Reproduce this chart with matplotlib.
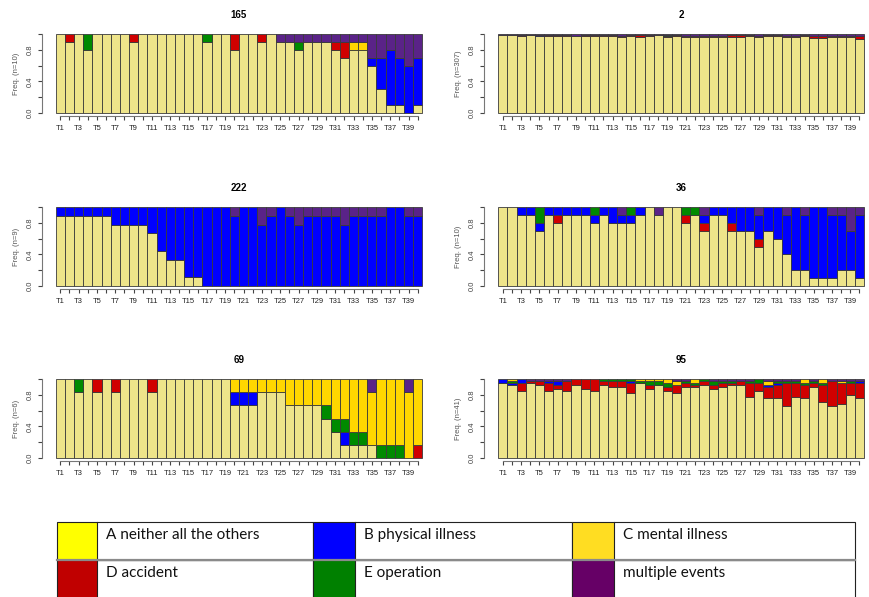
import matplotlib
matplotlib.use('Agg')
import matplotlib.pyplot as plt
from matplotlib.patches import Rectangle
import numpy as np

plt.rcParams['font.family'] = ['Liberation Sans Narrow', 'Liberation Sans', 'DejaVu Sans']

W, H = 869, 597

periods = ['T%d' % i for i in range(1, 41)]
state_keys = ['A', 'B', 'C', 'D', 'E', 'M']
state_labels = ['A neither all the others', 'B physical illness', 'C mental illness',
                'D accident', 'E operation', 'multiple events']

# order of the states inside each bar, bottom to top
stack_order = ['A', 'D', 'B', 'E', 'C', 'M']
bar_colors = {'A': '#EEE48A', 'D': '#D00000', 'B': '#0000FF',
              'E': '#008A00', 'C': '#FFD700', 'M': '#5A2388'}
legend_colors = ['#FFFF00', '#0000FF', '#FFDD22', '#C00000', '#008000', '#660066']

# cluster 165 (n=10)
c165_A = [10, 9, 10, 8, 10, 10, 10, 10, 9, 10, 10, 10, 10, 10, 10, 10, 9, 10, 10, 8,
          10, 10, 9, 10, 9, 9, 8, 9, 9, 9, 8, 7, 8, 8, 6, 3, 1, 1, 0, 1]
c165_B = [0, 0, 0, 0, 0, 0, 0, 0, 0, 0, 0, 0, 0, 0, 0, 0, 0, 0, 0, 0,
          0, 0, 0, 0, 0, 0, 0, 0, 0, 0, 0, 0, 0, 0, 1, 4, 7, 6, 6, 6]
c165_C = [0, 0, 0, 0, 0, 0, 0, 0, 0, 0, 0, 0, 0, 0, 0, 0, 0, 0, 0, 0,
          0, 0, 0, 0, 0, 0, 0, 0, 0, 0, 0, 0, 1, 1, 0, 0, 0, 0, 0, 0]
c165_D = [0, 1, 0, 0, 0, 0, 0, 0, 1, 0, 0, 0, 0, 0, 0, 0, 0, 0, 0, 2,
          0, 0, 1, 0, 0, 0, 0, 0, 0, 0, 1, 2, 0, 0, 0, 0, 0, 0, 0, 0]
c165_E = [0, 0, 0, 2, 0, 0, 0, 0, 0, 0, 0, 0, 0, 0, 0, 0, 1, 0, 0, 0,
          0, 0, 0, 0, 0, 0, 1, 0, 0, 0, 0, 0, 0, 0, 0, 0, 0, 0, 0, 0]
c165_M = [0, 0, 0, 0, 0, 0, 0, 0, 0, 0, 0, 0, 0, 0, 0, 0, 0, 0, 0, 0,
          0, 0, 0, 0, 1, 1, 1, 1, 1, 1, 1, 1, 1, 1, 3, 3, 2, 3, 4, 3]

# cluster 2 (n=307)
c2_A = [306, 305, 301, 304, 301, 301, 301, 301, 301, 301, 301, 301, 301, 298, 301, 298, 301, 304, 298, 301,
        295, 298, 298, 295, 295, 298, 298, 301, 295, 301, 301, 295, 298, 301, 292, 292, 298, 298, 295, 289]
c2_B = [0, 0, 0, 0, 2, 0, 2, 0, 0, 0, 0, 0, 0, 0, 0, 0, 0, 0, 0, 0,
        0, 0, 0, 0, 0, 0, 0, 0, 0, 0, 0, 0, 0, 0, 0, 0, 0, 0, 0, 0]
c2_C = [0, 0, 0, 0, 0, 0, 0, 0, 0, 0, 0, 0, 0, 0, 0, 0, 0, 0, 0, 0,
        0, 0, 0, 0, 0, 0, 0, 0, 0, 0, 0, 0, 0, 0, 0, 0, 0, 0, 0, 0]
c2_D = [0, 0, 2, 0, 0, 2, 2, 2, 0, 3, 2, 2, 2, 3, 2, 5, 2, 0, 2, 2,
        6, 3, 3, 7, 7, 5, 5, 2, 6, 2, 2, 6, 3, 2, 7, 7, 3, 3, 6, 10]
c2_E = [0, 0, 0, 0, 0, 0, 0, 0, 0, 0, 0, 0, 0, 0, 0, 0, 0, 0, 4, 0,
        0, 0, 0, 0, 0, 0, 0, 0, 0, 0, 0, 0, 0, 0, 0, 0, 0, 0, 0, 0]
c2_M = [1, 2, 4, 3, 4, 4, 2, 4, 6, 3, 4, 4, 4, 6, 4, 4, 4, 3, 3, 4,
        6, 6, 6, 5, 5, 4, 4, 4, 6, 4, 4, 6, 6, 4, 8, 8, 6, 6, 6, 8]

# cluster 222 (n=9)
c222_A = [8, 8, 8, 8, 8, 8, 7, 7, 7, 7, 6, 4, 3, 3, 1, 1, 0, 0, 0, 0,
          0, 0, 0, 0, 0, 0, 0, 0, 0, 0, 0, 0, 0, 0, 0, 0, 0, 0, 0, 0]
c222_B = [1, 1, 1, 1, 1, 1, 2, 2, 2, 2, 3, 5, 6, 6, 8, 8, 9, 9, 9, 8,
          9, 9, 7, 8, 9, 8, 7, 8, 8, 8, 8, 7, 8, 8, 8, 8, 9, 9, 8, 8]
c222_C = [0, 0, 0, 0, 0, 0, 0, 0, 0, 0, 0, 0, 0, 0, 0, 0, 0, 0, 0, 0,
          0, 0, 0, 0, 0, 0, 0, 0, 0, 0, 0, 0, 0, 0, 0, 0, 0, 0, 0, 0]
c222_D = [0, 0, 0, 0, 0, 0, 0, 0, 0, 0, 0, 0, 0, 0, 0, 0, 0, 0, 0, 0,
          0, 0, 0, 0, 0, 0, 0, 0, 0, 0, 0, 0, 0, 0, 0, 0, 0, 0, 0, 0]
c222_E = [0, 0, 0, 0, 0, 0, 0, 0, 0, 0, 0, 0, 0, 0, 0, 0, 0, 0, 0, 0,
          0, 0, 0, 0, 0, 0, 0, 0, 0, 0, 0, 0, 0, 0, 0, 0, 0, 0, 0, 0]
c222_M = [0, 0, 0, 0, 0, 0, 0, 0, 0, 0, 0, 0, 0, 0, 0, 0, 0, 0, 0, 1,
          0, 0, 2, 1, 0, 1, 2, 1, 1, 1, 1, 2, 1, 1, 1, 1, 0, 0, 1, 1]

# cluster 36 (n=10)
c36_A = [10, 10, 9, 9, 7, 9, 8, 9, 9, 9, 8, 9, 8, 8, 8, 9, 10, 9, 10, 10,
         8, 9, 7, 9, 9, 7, 7, 7, 5, 7, 6, 4, 2, 2, 1, 1, 1, 2, 2, 1]
c36_B = [0, 0, 1, 1, 1, 1, 1, 1, 1, 1, 1, 1, 2, 1, 1, 1, 0, 0, 0, 0,
         0, 0, 1, 1, 1, 2, 3, 3, 3, 3, 4, 5, 8, 7, 9, 9, 8, 7, 5, 8]
c36_C = [0, 0, 0, 0, 0, 0, 0, 0, 0, 0, 0, 0, 0, 0, 0, 0, 0, 0, 0, 0,
         0, 0, 0, 0, 0, 0, 0, 0, 0, 0, 0, 0, 0, 0, 0, 0, 0, 0, 0, 0]
c36_D = [0, 0, 0, 0, 0, 0, 1, 0, 0, 0, 0, 0, 0, 0, 0, 0, 0, 0, 0, 0,
         1, 0, 1, 0, 0, 1, 0, 0, 1, 0, 0, 0, 0, 0, 0, 0, 0, 0, 0, 0]
c36_E = [0, 0, 0, 0, 2, 0, 0, 0, 0, 0, 1, 0, 0, 0, 1, 0, 0, 0, 0, 0,
         1, 1, 0, 0, 0, 0, 0, 0, 0, 0, 0, 0, 0, 0, 0, 0, 0, 0, 0, 0]
c36_M = [0, 0, 0, 0, 0, 0, 0, 0, 0, 0, 0, 0, 0, 1, 0, 0, 0, 1, 0, 0,
         0, 0, 1, 0, 0, 0, 0, 0, 1, 0, 0, 1, 0, 1, 0, 0, 1, 1, 3, 1]

# cluster 69 (n=6)
c69_A = [6, 6, 5, 6, 5, 6, 5, 6, 6, 6, 5, 6, 6, 6, 6, 6, 6, 6, 6, 4,
         4, 4, 5, 5, 5, 4, 4, 4, 4, 3, 2, 1, 1, 1, 1, 0, 0, 0, 0, 0]
c69_B = [0, 0, 0, 0, 0, 0, 0, 0, 0, 0, 0, 0, 0, 0, 0, 0, 0, 0, 0, 1,
         1, 1, 0, 0, 0, 0, 0, 0, 0, 0, 0, 1, 0, 0, 0, 0, 0, 0, 0, 0]
c69_C = [0, 0, 0, 0, 0, 0, 0, 0, 0, 0, 0, 0, 0, 0, 0, 0, 0, 0, 0, 1,
         1, 1, 1, 1, 1, 2, 2, 2, 2, 2, 3, 3, 4, 4, 4, 5, 5, 5, 5, 5]
c69_D = [0, 0, 0, 0, 1, 0, 1, 0, 0, 0, 1, 0, 0, 0, 0, 0, 0, 0, 0, 0,
         0, 0, 0, 0, 0, 0, 0, 0, 0, 0, 0, 0, 0, 0, 0, 0, 0, 0, 0, 1]
c69_E = [0, 0, 1, 0, 0, 0, 0, 0, 0, 0, 0, 0, 0, 0, 0, 0, 0, 0, 0, 0,
         0, 0, 0, 0, 0, 0, 0, 0, 0, 1, 1, 1, 1, 1, 0, 1, 1, 1, 0, 0]
c69_M = [0, 0, 0, 0, 0, 0, 0, 0, 0, 0, 0, 0, 0, 0, 0, 0, 0, 0, 0, 0,
         0, 0, 0, 0, 0, 0, 0, 0, 0, 0, 0, 0, 0, 0, 1, 0, 0, 0, 1, 0]

# cluster 95 (n=41)
c95_A = [39, 38, 35, 39, 38, 35, 36, 35, 38, 36, 35, 38, 37, 37, 34, 39, 36, 38, 35, 34,
         37, 37, 38, 36, 37, 38, 38, 32, 35, 31, 31, 27, 32, 31, 37, 29, 27, 28, 33, 31]
c95_B = [2, 1, 2, 0, 0, 1, 2, 0, 0, 0, 0, 0, 0, 0, 1, 0, 0, 0, 0, 0,
         0, 0, 0, 0, 0, 0, 0, 0, 0, 1, 1, 0, 0, 0, 0, 0, 0, 0, 0, 1]
c95_C = [0, 1, 0, 0, 0, 0, 0, 0, 0, 0, 0, 0, 0, 0, 0, 1, 1, 1, 2, 2,
         0, 2, 0, 0, 0, 0, 0, 0, 0, 2, 0, 0, 0, 2, 0, 2, 0, 1, 0, 0]
c95_D = [0, 0, 4, 1, 2, 4, 2, 5, 3, 5, 6, 2, 3, 3, 5, 0, 2, 0, 2, 4,
         2, 1, 2, 2, 2, 1, 2, 7, 4, 6, 7, 12, 7, 7, 2, 9, 13, 11, 6, 8]
c95_E = [0, 1, 0, 0, 0, 0, 0, 0, 0, 0, 0, 1, 1, 1, 1, 1, 2, 2, 2, 0,
         1, 1, 1, 2, 1, 1, 0, 1, 2, 0, 1, 1, 1, 1, 1, 1, 0, 0, 1, 0]
c95_M = [0, 0, 0, 1, 1, 1, 1, 1, 0, 0, 0, 0, 0, 0, 0, 0, 0, 0, 0, 1,
         1, 0, 0, 1, 1, 1, 1, 1, 0, 1, 1, 1, 1, 0, 1, 0, 1, 1, 1, 1]

clusters = [
    ('165', 10, dict(A=c165_A, B=c165_B, C=c165_C, D=c165_D, E=c165_E, M=c165_M)),
    ('2', 307, dict(A=c2_A, B=c2_B, C=c2_C, D=c2_D, E=c2_E, M=c2_M)),
    ('222', 9, dict(A=c222_A, B=c222_B, C=c222_C, D=c222_D, E=c222_E, M=c222_M)),
    ('36', 10, dict(A=c36_A, B=c36_B, C=c36_C, D=c36_D, E=c36_E, M=c36_M)),
    ('69', 6, dict(A=c69_A, B=c69_B, C=c69_C, D=c69_D, E=c69_E, M=c69_M)),
    ('95', 41, dict(A=c95_A, B=c95_B, C=c95_C, D=c95_D, E=c95_E, M=c95_M)),
]

fig = plt.figure(figsize=(W / 100, H / 100), dpi=100)

# panel boxes in pixels: (left, right) per column, top per row
col_x = [(55.7, 422.3), (498.3, 864.0)]
row_top = [34.3, 207.3, 379.3]
panel_h = 78.5


def px_rect(x0, x1, y0, h):
    return [x0 / W, 1 - (y0 + h) / H, (x1 - x0) / W, h / H]


x = np.arange(1, 41)
for i, (name, n, counts) in enumerate(clusters):
    r, c = divmod(i, 2)
    x0, x1 = col_x[c]
    ax = fig.add_axes(px_rect(x0, x1, row_top[r], panel_h))
    bottom = np.zeros(40)
    for key in stack_order:
        freq = np.array(counts[key]) / n
        keep = freq > 0
        ax.bar(x[keep], freq[keep], width=1.0, bottom=bottom[keep],
               color=bar_colors[key], edgecolor='#3a3a3a', linewidth=0.6, clip_on=False)
        bottom += freq
    ax.set_xlim(0.5, 40.5)
    ax.set_ylim(0, 1)
    for side in ['top', 'right']:
        ax.spines[side].set_visible(False)
    ax.spines['left'].set_position(('outward', 10))
    ax.spines['left'].set_bounds(0, 1)
    ax.spines['left'].set_color('#777777')
    ax.spines['bottom'].set_position(('outward', 2.5))
    ax.spines['bottom'].set_bounds(1, 40)
    ax.spines['bottom'].set_color('#777777')

    ax.set_yticks([0, 0.2, 0.4, 0.6, 0.8, 1.0])
    ax.set_yticklabels(['0.0', '', '0.4', '', '0.8', ''], rotation=90, va='center',
                       fontsize=5.5, color='#444444')
    ax.set_xticks(x)
    ax.set_xticklabels([p if k % 2 == 0 else '' for k, p in enumerate(periods)],
                       fontsize=5.5, color='#222222')
    ax.tick_params(axis='both', length=3, width=0.8, color='#444444', pad=3)
    ax.set_ylabel('Freq. (n=%d)' % n, fontsize=5.5, color='#555555', labelpad=5)

    # cluster name above each panel
    fig.text((x0 + x1) / 2 / W, 1 - (row_top[r] - 19) / H, name, ha='center',
             va='center', fontsize=7, fontweight='bold')

# legend table drawn in pixel coordinates
lg = fig.add_axes([0, 0, 1, 1])
lg.set_xlim(0, W)
lg.set_ylim(H, 0)
lg.axis('off')

swatch_x = [(57, 97), (313, 355), (572, 614)]
cell_right = [313, 572, 855]
row_y = [(522, 560), (560, 598)]
for k, label in enumerate(state_labels):
    r, c = divmod(k, 3)
    sx0, sx1 = swatch_x[c]
    ry0, ry1 = row_y[r]
    lg.add_patch(Rectangle((sx0, ry0), sx1 - sx0, ry1 - ry0,
                           facecolor=legend_colors[k], edgecolor='none'))
    lg.add_patch(Rectangle((sx0, ry0), cell_right[c] - sx0, ry1 - ry0,
                           facecolor='none', edgecolor='#222222', linewidth=0.8))
    lg.plot([sx1, sx1], [ry0, ry1], color='#222222', linewidth=0.8)
    lg.text(sx1 + 9, ry0 + 13, label, ha='left', va='center', fontsize=11,
            family=['Lato', 'DejaVu Sans'], color='#111111')
lg.plot([57, 855], [560, 560], color='#8a8a8a', linewidth=1.6)

fig.savefig('out.png', dpi=100)
